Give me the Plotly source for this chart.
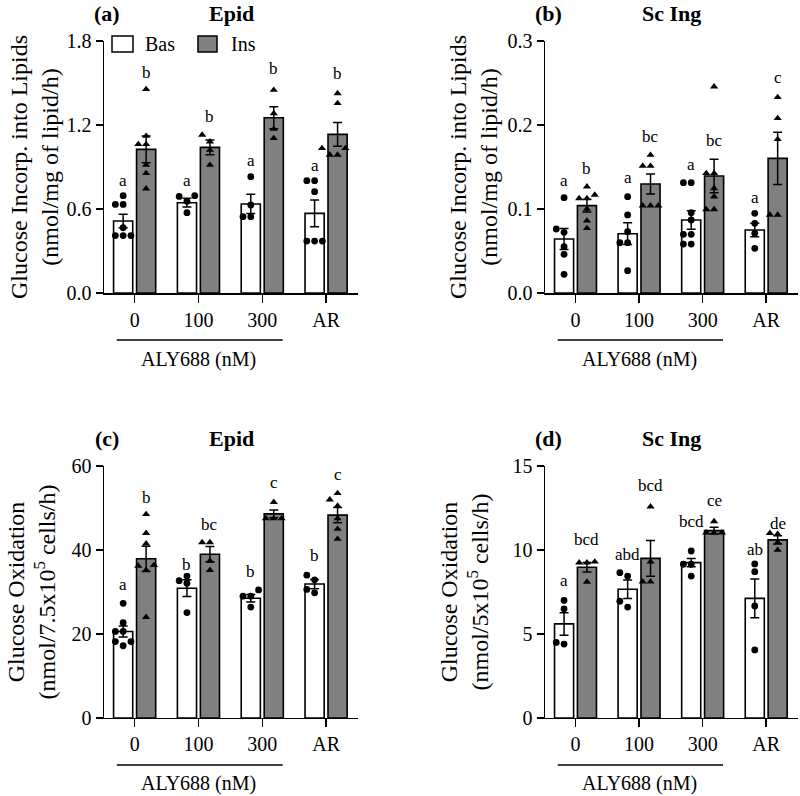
import numpy as np
import plotly.graph_objects as go

FIG_W, FIG_H = 800, 796
FONT = "Liberation Serif, Times New Roman, serif"

categories = ["0", "100", "300", "AR"]
series_names = ["Bas", "Ins"]

# ---------------- panel (a): Epid, glucose incorporation into lipids
a_bas_mean = [0.514, 0.645, 0.636, 0.569]
a_bas_sem = [0.048, 0.031, 0.069, 0.095]
a_ins_mean = [1.026, 1.040, 1.252, 1.133]
a_ins_sem = [0.095, 0.053, 0.079, 0.084]
a_bas_pts = [[0.695, 0.633, 0.633, 0.466, 0.41, 0.41, 0.41],
             [0.695, 0.69, 0.655, 0.574],
             [0.831, 0.629, 0.545, 0.545],
             [0.802, 0.802, 0.724, 0.371, 0.371, 0.371]]
a_ins_pts = [[1.455, 1.121, 1.062, 1.062, 0.914, 0.855, 0.745],
             [1.129, 1.081, 1.021, 0.914],
             [1.45, 1.283, 1.171, 1.105],
             [1.426, 1.355, 1.034, 1.034, 0.986, 0.986]]
a_bas_letters = ["a", "a", "a", "a"]
a_ins_letters = ["b", "b", "b", "b"]

# ---------------- panel (b): Sc Ing, glucose incorporation into lipids
b_bas_mean = [0.0643, 0.0706, 0.0869, 0.075]
b_bas_sem = [0.0125, 0.013, 0.011, 0.008]
b_ins_mean = [0.104, 0.1298, 0.1393, 0.1603]
b_ins_sem = [0.0075, 0.012, 0.020, 0.031]
b_bas_pts = [[0.1135, 0.0762, 0.0722, 0.0551, 0.046, 0.0222],
             [0.1147, 0.0929, 0.073, 0.0599, 0.0599, 0.0266],
             [0.1313, 0.1313, 0.0956, 0.0869, 0.0698, 0.0698, 0.0583, 0.0583],
             [0.0949, 0.083, 0.071, 0.0532]]
b_ins_pts = [[0.1266, 0.1167, 0.1127, 0.1127, 0.10, 0.086, 0.077],
             [0.1643, 0.1512, 0.1512, 0.104, 0.104, 0.104],
             [0.2456, 0.1425, 0.1425, 0.1246, 0.1147, 0.0996, 0.0996],
             [0.233, 0.208, 0.183, 0.0929, 0.0929]]
b_bas_letters = ["a", "a", "a", "a"]
b_ins_letters = ["b", "bc", "bc", "c"]

# ---------------- panel (c): Epid, glucose oxidation
c_bas_mean = [20.6, 30.9, 28.5, 31.9]
c_bas_sem = [1.3, 2.0, 0.9, 1.1]
c_ins_mean = [37.9, 39.0, 48.6, 48.3]
c_ins_sem = [3.0, 1.8, 0.9, 1.8]
c_bas_pts = [[27.3, 22.7, 20.6, 20.6, 18.2, 18.2, 17.2],
             [33.8, 32.7, 32.1, 25.1],
             [30.5, 29.0, 29.0, 26.4],
             [34.0, 32.9, 30.6, 29.8]]
c_ins_pts = [[48.5, 44.0, 41.5, 36.4, 36.2, 35.2, 24.0],
             [41.8, 41.8, 37.4, 35.2],
             [51.4, 47.5, 47.5, 47.5],
             [53.5, 52.0, 50.5, 47.5, 45.0, 42.6]]
c_bas_letters = ["a", "b", "b", "b"]
c_ins_letters = ["b", "bc", "c", "c"]

# ---------------- panel (d): Sc Ing, glucose oxidation
d_bas_mean = [5.6, 7.66, 9.25, 7.12]
d_bas_sem = [0.67, 0.55, 0.25, 1.15]
d_ins_mean = [8.97, 9.5, 11.15, 10.6]
d_ins_sem = [0.28, 1.06, 0.2, 0.24]
d_bas_pts = [[7.0, 6.5, 4.5, 4.4],
             [8.65, 8.45, 6.95, 6.6],
             [9.94, 9.15, 9.15, 8.45],
             [9.17, 8.71, 6.67, 4.05]]
d_ins_pts = [[9.3, 9.25, 9.25, 8.1],
             [12.58, 9.3, 8.11, 8.11],
             [11.7, 11.03, 11.03, 11.03],
             [11.0, 10.95, 10.45, 10.0]]
d_bas_letters = ["a", "abd", "bcd", "ab"]
d_ins_letters = ["bcd", "bcd", "ce", "de"]

# ---------------- layout / annotation placement (not data)
letter_levels = {
    "a": ([0.807, 0.807, 0.95, 0.914], [1.574, 1.264, 1.605, 1.569]),
    "b": ([0.1345, 0.1373, 0.1524, 0.1139], [0.1484, 0.1869, 0.181, 0.2568]),
    "c": ([31.9, 36.6, 34.8, 38.8], [52.5, 45.95, 56.0, 57.9]),
    "d": ([8.21, 9.74, 11.69, 10.04], [10.6, 13.81, 12.92, 11.55]),
}

X_RANGE = [-0.48, 3.5]
BAR_W = 0.30
BAR_OFF = 0.18
COL_DOM = {"L": [0.13, 0.4475], "R": [0.68125, 0.9975]}
ROW_DOM = {"T": [0.6319, 0.9485], "B": [0.098, 0.4146]}
GRAY = "rgb(128,128,128)"

panels = [
    dict(key="a", tag="(a)", title="Epid", col="L", row="T", ymax=1.8, dtick=0.6, fmt=".1f",
         ytitle="Glucose Incorp. into Lipids<br>(nmol/mg of lipid/h)", standoff=1,
         bas=(a_bas_mean, a_bas_sem, a_bas_pts, a_bas_letters),
         ins=(a_ins_mean, a_ins_sem, a_ins_pts, a_ins_letters)),
    dict(key="b", tag="(b)", title="Sc Ing", col="R", row="T", ymax=0.3, dtick=0.1, fmt=".1f",
         ytitle="Glucose Incorp. into Lipids<br>(nmol/mg of lipid/h)", standoff=3,
         bas=(b_bas_mean, b_bas_sem, b_bas_pts, b_bas_letters),
         ins=(b_ins_mean, b_ins_sem, b_ins_pts, b_ins_letters)),
    dict(key="c", tag="(c)", title="Epid", col="L", row="B", ymax=60, dtick=20, fmt="d",
         ytitle="Glucose Oxidation<br>(nmol/7.5x10<sup>5</sup> cells/h)", standoff=9,
         bas=(c_bas_mean, c_bas_sem, c_bas_pts, c_bas_letters),
         ins=(c_ins_mean, c_ins_sem, c_ins_pts, c_ins_letters)),
    dict(key="d", tag="(d)", title="Sc Ing", col="R", row="B", ymax=15, dtick=5, fmt="d",
         ytitle="Glucose Oxidation<br>(nmol/5x10<sup>5</sup> cells/h)", standoff=17,
         bas=(d_bas_mean, d_bas_sem, d_bas_pts, d_bas_letters),
         ins=(d_ins_mean, d_ins_sem, d_ins_pts, d_ins_letters)),
]


def swarm(values, center, px_x, px_y, diam=7.0, step_px=7.8):
    """Simple beeswarm: spread points horizontally where they would overlap."""
    placed = []
    xs = [None] * len(values)
    order = np.argsort(values)
    step = step_px / px_x
    for idx in order:
        v = values[idx]
        cands = [0]
        for n in range(1, 8):
            cands += [-n, n]
        x = center
        for c in cands:
            x = center + c * step
            ok = True
            for (qx, qy) in placed:
                dx = (x - qx) * px_x
                dy = (v - qy) * px_y
                if dx * dx + dy * dy < diam * diam - 1e-6:
                    ok = False
                    break
            if ok:
                break
        placed.append((x, v))
        xs[idx] = x
    return xs


def fnt(size):
    return dict(family=FONT, size=size, color="black")


fig = go.Figure()
layout = dict(template="none", width=FIG_W, height=FIG_H, autosize=False,
              margin=dict(l=0, r=0, t=0, b=0, pad=0, autoexpand=False),
              paper_bgcolor="white", plot_bgcolor="white",
              font=fnt(20), showlegend=False)
annotations = []
shapes = []

for i, p in enumerate(panels):
    n = "" if i == 0 else str(i + 1)
    xa, ya = "x" + n, "y" + n
    xdom, ydom = COL_DOM[p["col"]], ROW_DOM[p["row"]]
    px_x = (xdom[1] - xdom[0]) * FIG_W / (X_RANGE[1] - X_RANGE[0])
    px_y = (ydom[1] - ydom[0]) * FIG_H / p["ymax"]
    xpos = np.arange(len(categories))

    for s, (name, fill, sym, off) in enumerate([("Bas", "white", "circle", -BAR_OFF),
                                                 ("Ins", GRAY, "triangle-up", BAR_OFF)]):
        mean, sem, pts, letters = p["bas"] if s == 0 else p["ins"]
        fig.add_trace(go.Bar(
            x=xpos + off, y=mean, width=BAR_W, name=name,
            marker=dict(color=fill, line=dict(color="black", width=1.6)),
            error_y=dict(type="data", array=sem, visible=True, color="black",
                         thickness=1.5, width=4.5),
            xaxis=xa, yaxis=ya))
        px_list, py_list = [], []
        for g, vals in enumerate(pts):
            xs = swarm(vals, xpos[g] + off, px_x, px_y)
            px_list += xs
            py_list += vals
        fig.add_trace(go.Scatter(
            x=px_list, y=py_list, mode="markers", name=name + " points",
            marker=dict(symbol=sym, size=6.8 if sym == "circle" else 7.2, color="black",
                        line=dict(width=0)),
            xaxis=xa, yaxis=ya, hoverinfo="skip"))
        levels = letter_levels[p["key"]][s]
        for g, txt in enumerate(letters):
            annotations.append(dict(x=xpos[g] + off, y=levels[g], xref=xa, yref=ya,
                                    text=txt, showarrow=False, yanchor="middle",
                                    font=fnt(17)))

    layout["xaxis" + n] = dict(domain=xdom, anchor=ya, range=X_RANGE, automargin=False,
                               tickmode="array", tickvals=list(xpos), ticktext=categories,
                               showline=True, linecolor="black", linewidth=1.5,
                               ticks="outside", ticklen=8, tickwidth=1.5, tickcolor="black",
                               tickfont=fnt(20), showgrid=False, zeroline=False,
                               fixedrange=True)
    layout["yaxis" + n] = dict(domain=ydom, anchor=xa, range=[0, p["ymax"]], automargin=False,
                               dtick=p["dtick"], tick0=0, tickformat=p["fmt"],
                               showline=True, linecolor="black", linewidth=1.5,
                               ticks="outside", ticklen=7, tickwidth=1.5, tickcolor="black",
                               tickfont=fnt(20), showgrid=False, zeroline=False,
                               title=dict(text=p["ytitle"], font=fnt(24), standoff=p["standoff"]),
                               fixedrange=True)

    # group label (ALY688 concentrations) under the first three categories
    y_line = ydom[0] - 47 / FIG_H
    shapes.append(dict(type="line", xref=xa, yref="paper", x0=-0.28, x1=2.32,
                       y0=y_line, y1=y_line, line=dict(color="black", width=1.5)))
    annotations.append(dict(x=1, y=y_line - 19 / FIG_H, xref=xa, yref="paper",
                            text="ALY688 (nM)", showarrow=False, yanchor="middle",
                            font=fnt(20)))
    # panel tag and title
    ytit = ydom[1] + 27 / FIG_H
    annotations.append(dict(x=xdom[0] + 3 / FIG_W, y=ytit, xref="paper", yref="paper",
                            text="<b>" + p["tag"] + "</b>", showarrow=False,
                            xanchor="center", yanchor="middle", font=fnt(22)))
    annotations.append(dict(x=(xdom[0] + xdom[1]) / 2, y=ytit, xref="paper", yref="paper",
                            text="<b>" + p["title"] + "</b>", showarrow=False,
                            xanchor="center", yanchor="middle", font=fnt(22)))

# legend (panel a): swatches + labels placed in the top-left of the plot area
leg_y0, leg_y1 = 1 - 52 / FIG_H, 1 - 36 / FIG_H
for name, fill, x0, x1, xt in [(series_names[0], "white", 112, 133, 143),
                               (series_names[1], GRAY, 198, 217, 229)]:
    shapes.append(dict(type="rect", xref="paper", yref="paper",
                       x0=x0 / FIG_W, x1=x1 / FIG_W, y0=leg_y0, y1=leg_y1,
                       fillcolor=fill, line=dict(color="black", width=1.5)))
    annotations.append(dict(x=xt / FIG_W, y=(leg_y0 + leg_y1) / 2, xref="paper", yref="paper",
                            text=name, showarrow=False, xanchor="left", yanchor="middle",
                            font=fnt(20)))

layout["annotations"] = annotations
layout["shapes"] = shapes
layout["bargap"] = 0
fig.update_layout(**layout)
fig.write_html("out.html", config={"displayModeBar": False, "staticPlot": True},
               post_script="document.body.style.margin='0';document.body.style.overflow='hidden';")
